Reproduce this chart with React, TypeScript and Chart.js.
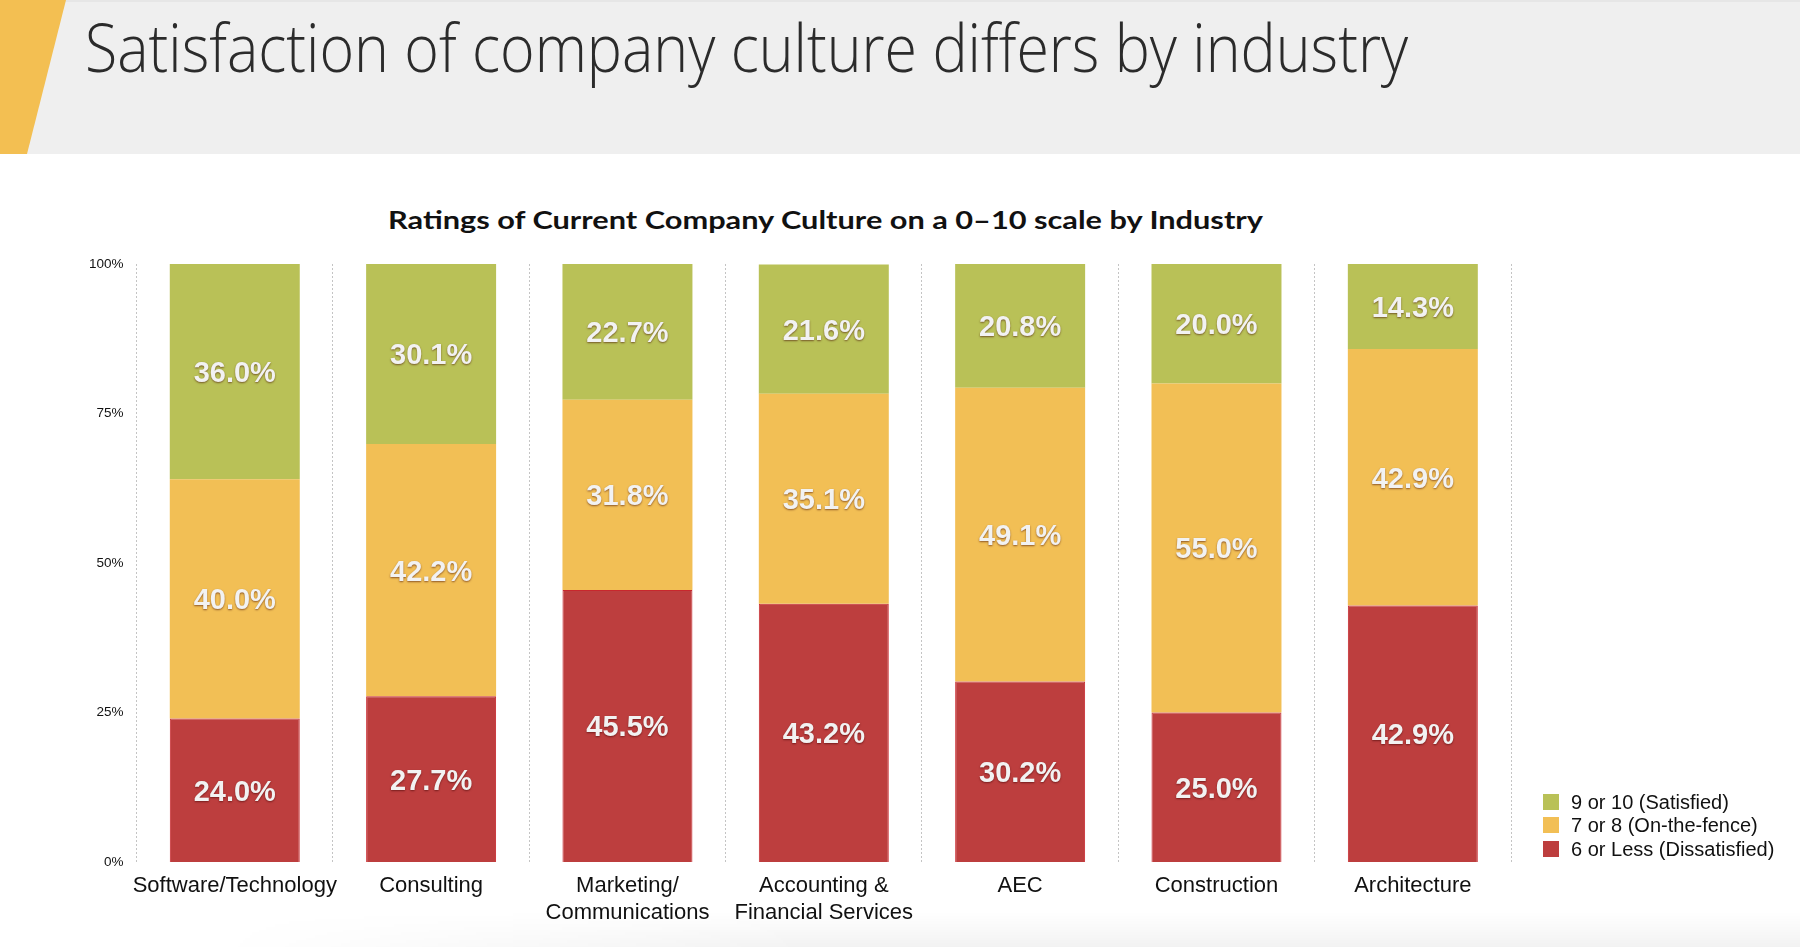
import React, { useEffect, useRef } from 'react';
import { Chart, registerables } from 'chart.js';

Chart.register(...registerables);

// ---- data ----
const pageTitle = 'Satisfaction of company culture differs by industry';
const chartTitle = 'Ratings of Current Company Culture on a 0–10 scale by Industry';
const categories: string[][] = [
  ['Software/Technology'],
  ['Consulting'],
  ['Marketing/', 'Communications'],
  ['Accounting &', 'Financial Services'],
  ['AEC'],
  ['Construction'],
  ['Architecture'],
];
const dissatisfied = [24.0, 27.7, 45.5, 43.2, 30.2, 25.0, 42.9];
const onTheFence = [40.0, 42.2, 31.8, 35.1, 49.1, 55.0, 42.9];
const satisfied = [36.0, 30.1, 22.7, 21.6, 20.8, 20.0, 14.3];
const seriesNames = ['6 or Less (Dissatisfied)', '7 or 8 (On-the-fence)', '9 or 10 (Satisfied)'];
const seriesColors = ['#bd3e3e', '#f2bf55', '#b9c157'];
const yTickStep = 25;
const yMax = 100;

const valueLabels = {
  id: 'valueLabels',
  afterDatasetsDraw(chart: any) {
    const ctx = chart.ctx;
    ctx.save();
    const size = 29;
    ctx.font = `bold ${size}px "Liberation Sans", Arial, sans-serif`;
    ctx.textAlign = 'center';
    ctx.textBaseline = 'alphabetic';
    ctx.fillStyle = '#f2f2f2';
    ctx.shadowColor = 'rgba(60,0,0,0.55)';
    ctx.shadowBlur = 2;
    ctx.shadowOffsetX = 0;
    ctx.shadowOffsetY = 1;
    chart.data.datasets.forEach((ds: any, i: number) => {
      const meta = chart.getDatasetMeta(i);
      meta.data.forEach((bar: any, j: number) => {
        const { x, y, base } = bar.getProps(['x', 'y', 'base'], true);
        const cy = (y + base) / 2 + size * 0.358;
        ctx.fillText(Number(ds.data[j]).toFixed(1) + '%', x, cy);
      });
    });
    ctx.restore();
  },
};

function FitText({ text, width, style }: { text: string; width: number; style: React.CSSProperties }) {
  const ref = useRef<HTMLSpanElement | null>(null);
  useEffect(() => {
    const fit = () => {
      const el = ref.current;
      if (!el) return;
      el.style.transform = 'none';
      const w = el.getBoundingClientRect().width;
      if (w > 0) el.style.transform = `scaleX(${width / w})`;
    };
    fit();
    (document as any).fonts?.ready?.then(fit);
  }, [text, width]);
  return (
    <span ref={ref} style={{ display: 'inline-block', whiteSpace: 'nowrap', transformOrigin: '0 0', ...style }}>
      {text}
    </span>
  );
}

export default function App() {
  const canvasRef = useRef<HTMLCanvasElement | null>(null);

  useEffect(() => {
    if (!canvasRef.current) return;
    const datasets = [dissatisfied, onTheFence, satisfied].map((d, i) => ({
      label: seriesNames[i],
      data: d,
      backgroundColor: seriesColors[i],
      borderColor: i === 0 ? '#c8272d' : seriesColors[i],
      borderWidth: i === 0 ? 1 : 0,
      categoryPercentage: 1,
      barPercentage: 0.662,
    }));
    const chart = new Chart(canvasRef.current, {
      type: 'bar',
      data: { labels: categories as any, datasets },
      options: {
        animation: false,
        responsive: false,
        layout: { padding: { left: 76.6, right: 289, top: 24, bottom: 0 } },
        plugins: {
          legend: { display: false },
          title: { display: false },
          tooltip: { enabled: false },
        },
        scales: {
          x: {
            stacked: true,
            offset: true,
            grid: { display: true, offset: true, color: '#c4c4c4', lineWidth: 1, drawTicks: false },
            border: { display: false, dash: [2, 2] },
            ticks: {
              color: '#111',
              padding: 10,
              maxRotation: 0,
              autoSkip: false,
              font: { family: '"Liberation Sans", Arial, sans-serif', size: 22, lineHeight: 1.23 },
            },
            afterFit: (s: any) => { s.height = 70; },
          },
          y: {
            stacked: true,
            min: 0,
            max: yMax,
            grid: { display: false, drawTicks: false },
            border: { display: false },
            ticks: {
              stepSize: yTickStep,
              color: '#111',
              padding: 13,
              font: { family: '"Liberation Sans", Arial, sans-serif', size: 13.5 },
              callback: (v: any) => v + '%',
            },
            afterFit: (s: any) => { s.width = 60; },
          },
        },
      },
      plugins: [valueLabels],
    });
    return () => chart.destroy();
  }, []);

  const legendOrder = [2, 1, 0];

  return (
    <div style={{ position: 'fixed', left: 0, top: 0, width: 1800, height: 947, background: '#fff', overflow: 'hidden' }}>
      {/* header band */}
      <div style={{ position: 'absolute', left: 0, top: 0, width: 1800, height: 154, background: '#efefef', borderTop: '2px solid #e6e6e6', boxSizing: 'border-box' }} />
      <div style={{ position: 'absolute', left: 0, top: 0, width: 70, height: 154, background: '#f3bf52', clipPath: 'polygon(0 0, 66px 0, 27px 154px, 0 154px)' }} />
      <div style={{ position: 'absolute', left: 85, top: 13, lineHeight: 1 }}>
        <FitText
          text={pageTitle}
          width={1323}
          style={{ fontFamily: '"Open Sans", sans-serif', fontWeight: 300, fontSize: 66, color: '#2b2b2b', lineHeight: 1 }}
        />
      </div>
      <div style={{ position: 'absolute', left: 388, top: 207, lineHeight: 1 }}>
        <FitText
          text={chartTitle}
          width={875}
          style={{ fontFamily: 'Lato, sans-serif', fontWeight: 700, fontSize: 25.5, color: '#111', lineHeight: 1 }}
        />
      </div>
      <canvas ref={canvasRef} width={1800} height={692} style={{ position: 'absolute', left: 0, top: 240, width: 1800, height: 692 }} />
      {/* legend */}
      <div style={{ position: 'absolute', left: 1543, top: 790, fontFamily: '"Liberation Sans", Arial, sans-serif', fontSize: 20, color: '#111' }}>
        {legendOrder.map((i) => (
          <div key={i} style={{ display: 'flex', alignItems: 'center', height: 23.5 }}>
            <span style={{ width: 16, height: 16, background: seriesColors[i], marginRight: 12, display: 'inline-block' }} />
            <span style={{ lineHeight: 1 }}>{seriesNames[i]}</span>
          </div>
        ))}
      </div>
      {/* bottom shadow */}
      <div style={{ position: 'absolute', left: 0, top: 912, width: 1800, height: 35, background: 'linear-gradient(to bottom, rgba(0,0,0,0), rgba(0,0,0,0.05))', WebkitMaskImage: 'linear-gradient(to right, transparent 12%, black 45%)', maskImage: 'linear-gradient(to right, transparent 12%, black 45%)' } as any} />
    </div>
  );
}
